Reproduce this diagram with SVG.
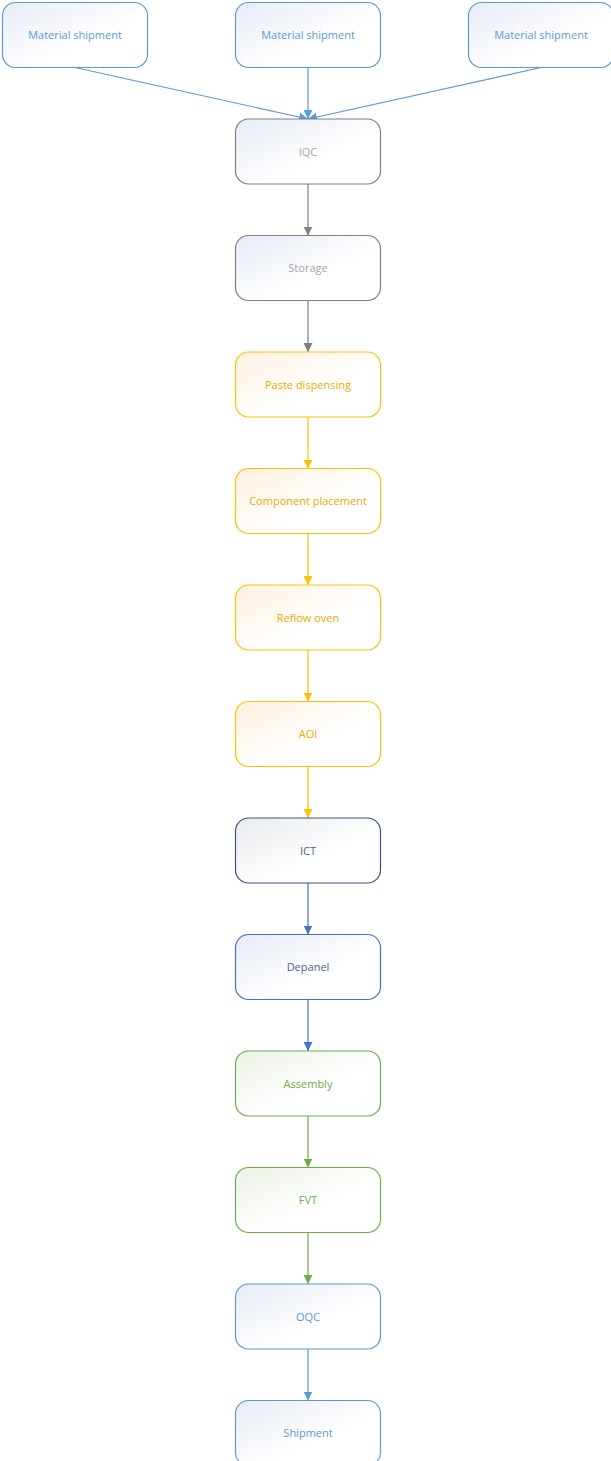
<svg xmlns="http://www.w3.org/2000/svg" width="611" height="1461" viewBox="0 0 611 1461">
<style>
.n rect{stroke-width:1.2}
.n text{font-family:"Open Sans","Liberation Sans",sans-serif;font-size:11px;text-anchor:middle;dominant-baseline:central}
.blue rect{stroke:#5B9BD5;fill:url(#gb)} .blue text{fill:#5B9BD5}
.gray rect{stroke:#7F7F7F;fill:url(#gb)} .gray text{fill:#A5A5A5}
.gold rect{stroke:#FFC000;fill:url(#go)} .gold text{fill:#E8AC00}
.navy rect{stroke:#3E5578;fill:url(#gg)} .navy text{fill:#4A6285}
.dblue rect{stroke:#4472C4;fill:url(#gb)} .dblue text{fill:#4A6285}
.green rect{stroke:#70AD47;fill:url(#gn)} .green text{fill:#70AD47}
#edges line{stroke-width:1.2}
</style>
<defs>
<linearGradient id="gb" x1="0" y1="0" x2="1" y2="1"><stop offset="0" stop-color="#E6ECF7"/><stop offset="0.6" stop-color="#FFFFFF"/></linearGradient>
<linearGradient id="gg" x1="0" y1="0" x2="1" y2="1"><stop offset="0" stop-color="#E9EBEF"/><stop offset="0.6" stop-color="#FFFFFF"/></linearGradient>
<linearGradient id="go" x1="0" y1="0" x2="1" y2="1"><stop offset="0" stop-color="#FFF1E0"/><stop offset="0.6" stop-color="#FFFFFF"/></linearGradient>
<linearGradient id="gn" x1="0" y1="0" x2="1" y2="1"><stop offset="0" stop-color="#EDF3E8"/><stop offset="0.6" stop-color="#FFFFFF"/></linearGradient>
<marker id="mBlue" viewBox="0 0 10 10" refX="10" refY="5" markerWidth="9" markerHeight="9" markerUnits="userSpaceOnUse" orient="auto"><path d="M0,0 L10,5 L0,10 z" fill="#5B9BD5"/></marker>
<marker id="mGray" viewBox="0 0 10 10" refX="10" refY="5" markerWidth="9" markerHeight="9" markerUnits="userSpaceOnUse" orient="auto"><path d="M0,0 L10,5 L0,10 z" fill="#7F7F7F"/></marker>
<marker id="mGold" viewBox="0 0 10 10" refX="10" refY="5" markerWidth="9" markerHeight="9" markerUnits="userSpaceOnUse" orient="auto"><path d="M0,0 L10,5 L0,10 z" fill="#FFC000"/></marker>
<marker id="mDBlue" viewBox="0 0 10 10" refX="10" refY="5" markerWidth="9" markerHeight="9" markerUnits="userSpaceOnUse" orient="auto"><path d="M0,0 L10,5 L0,10 z" fill="#4472C4"/></marker>
<marker id="mGreen" viewBox="0 0 10 10" refX="10" refY="5" markerWidth="9" markerHeight="9" markerUnits="userSpaceOnUse" orient="auto"><path d="M0,0 L10,5 L0,10 z" fill="#70AD47"/></marker>
</defs>
<rect width="611" height="1461" fill="#FFFFFF"/>
<g id="edges">
<line x1="75" y1="67.5" x2="308" y2="119" stroke="#5B9BD5" marker-end="url(#mBlue)"/>
<line x1="308" y1="67.5" x2="308" y2="119" stroke="#5B9BD5" marker-end="url(#mBlue)"/>
<line x1="541" y1="67.5" x2="308" y2="119" stroke="#5B9BD5" marker-end="url(#mBlue)"/>
<line x1="308" y1="184" x2="308" y2="235.5" stroke="#7F7F7F" marker-end="url(#mGray)"/>
<line x1="308" y1="300.5" x2="308" y2="352" stroke="#7F7F7F" marker-end="url(#mGray)"/>
<line x1="308" y1="417" x2="308" y2="468.5" stroke="#FFC000" marker-end="url(#mGold)"/>
<line x1="308" y1="533.5" x2="308" y2="585" stroke="#FFC000" marker-end="url(#mGold)"/>
<line x1="308" y1="650" x2="308" y2="701.5" stroke="#FFC000" marker-end="url(#mGold)"/>
<line x1="308" y1="766.5" x2="308" y2="818" stroke="#FFC000" marker-end="url(#mGold)"/>
<line x1="308" y1="883" x2="308" y2="934.5" stroke="#4472C4" marker-end="url(#mDBlue)"/>
<line x1="308" y1="999.5" x2="308" y2="1051" stroke="#4472C4" marker-end="url(#mDBlue)"/>
<line x1="308" y1="1116" x2="308" y2="1167.5" stroke="#70AD47" marker-end="url(#mGreen)"/>
<line x1="308" y1="1232.5" x2="308" y2="1284" stroke="#70AD47" marker-end="url(#mGreen)"/>
<line x1="308" y1="1349" x2="308" y2="1400.5" stroke="#5B9BD5" marker-end="url(#mBlue)"/>
</g>
<g id="ms1" class="n blue"><rect x="2.5" y="2.5" width="145" height="65" rx="13"/><text x="75" y="34">Material shipment</text></g>
<g id="ms2" class="n blue"><rect x="235.5" y="2.5" width="145" height="65" rx="13"/><text x="308" y="34">Material shipment</text></g>
<g id="ms3" class="n blue"><rect x="468.5" y="2.5" width="145" height="65" rx="13"/><text x="541" y="34">Material shipment</text></g>
<g id="iqc" class="n gray"><rect x="235.5" y="119" width="145" height="65" rx="13"/><text x="308" y="151">IQC</text></g>
<g id="storage" class="n gray"><rect x="235.5" y="235.5" width="145" height="65" rx="13"/><text x="308" y="267">Storage</text></g>
<g id="paste" class="n gold"><rect x="235.5" y="352" width="145" height="65" rx="13"/><text x="308" y="384">Paste dispensing</text></g>
<g id="placement" class="n gold"><rect x="235.5" y="468.5" width="145" height="65" rx="13"/><text x="308" y="500">Component placement</text></g>
<g id="reflow" class="n gold"><rect x="235.5" y="585" width="145" height="65" rx="13"/><text x="308" y="617">Reflow oven</text></g>
<g id="aoi" class="n gold"><rect x="235.5" y="701.5" width="145" height="65" rx="13"/><text x="308" y="733">AOI</text></g>
<g id="ict" class="n navy"><rect x="235.5" y="818" width="145" height="65" rx="13"/><text x="308" y="850">ICT</text></g>
<g id="depanel" class="n dblue"><rect x="235.5" y="934.5" width="145" height="65" rx="13"/><text x="308" y="966">Depanel</text></g>
<g id="assembly" class="n green"><rect x="235.5" y="1051" width="145" height="65" rx="13"/><text x="308" y="1083">Assembly</text></g>
<g id="fvt" class="n green"><rect x="235.5" y="1167.5" width="145" height="65" rx="13"/><text x="308" y="1199">FVT</text></g>
<g id="oqc" class="n blue"><rect x="235.5" y="1284" width="145" height="65" rx="13"/><text x="308" y="1316">OQC</text></g>
<g id="shipment" class="n blue"><rect x="235.5" y="1400.5" width="145" height="65" rx="13"/><text x="308" y="1432">Shipment</text></g>
</svg>
